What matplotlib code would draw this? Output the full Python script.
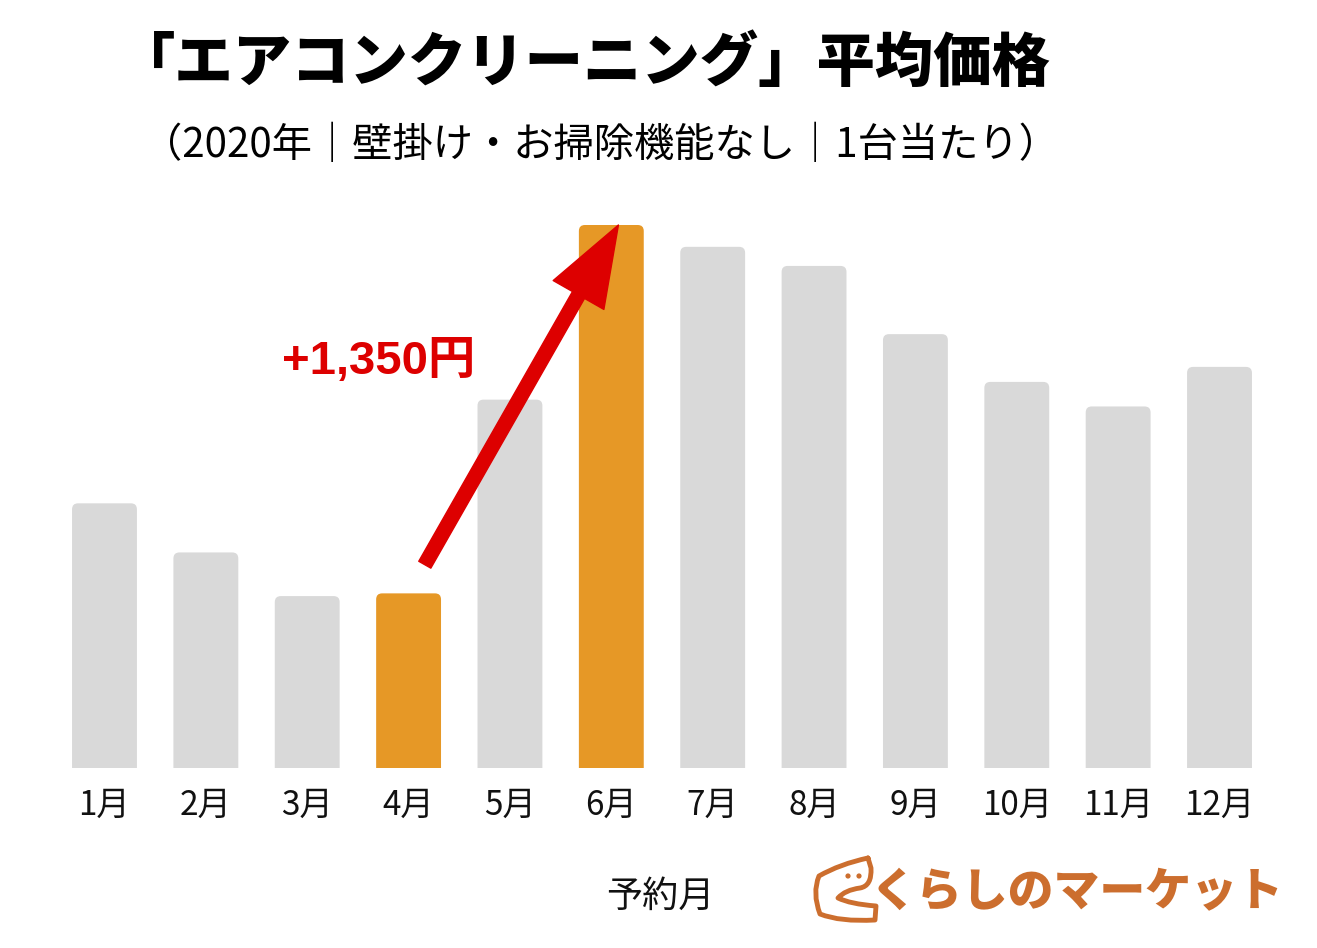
import matplotlib
matplotlib.use("Agg")
import matplotlib.pyplot as plt
from matplotlib.patches import FancyBboxPatch, PathPatch, Circle
from matplotlib.path import Path

# ---- data ----
months = ["1月", "2月", "3月", "4月", "5月", "6月", "7月", "8月", "9月", "10月", "11月", "12月"]
prices = [9970, 9790, 9630, 9640, 10350, 10990, 10910, 10840, 10590, 10415, 10325, 10470]
highlight = ["4月", "6月"]
title = "「エアコンクリーニング」平均価格"
subtitle = "（2020年｜壁掛け・お掃除機能なし｜1台当たり）"
diff_label = "+1,350円"
xlabel = "予約月"
logo_text = "くらしのマーケット"

GRAY = "#D9D9D9"
ORANGE = "#E69826"
RED = "#DD0000"
LOGO = "#CC6E2E"

W, H = 1317, 948
fig = plt.figure(figsize=(W / 100, H / 100), dpi=100)
fig.patch.set_facecolor("white")

def fx(px):
    return px / W

def fy(py):
    return 1 - py / H

# axes: baseline at y=768px, top at 225px
ax = fig.add_axes([fx(53.8), fy(768), fx(1270.2) - fx(53.8), (768 - 225) / H])
ymin, ymax = 9000, 10990
ax.set_xlim(-0.5, len(months) - 0.5)
ax.set_ylim(ymin, ymax)
ax.axis("off")

# aspect for rounded corners
fig.canvas.draw()
x_per_px = 1.0 / (ax.transData.transform((1, 0))[0] - ax.transData.transform((0, 0))[0])
y_per_px = 1.0 / (ax.transData.transform((0, 1))[1] - ax.transData.transform((0, 0))[1])
aspect = y_per_px / x_per_px

bw = 0.64
r = 6 * x_per_px
for i, (m, v) in enumerate(zip(months, prices)):
    col = ORANGE if m in highlight else GRAY
    p = FancyBboxPatch((i - bw / 2, ymin - 200), bw, v - ymin + 200,
                       boxstyle=f"round,pad=0,rounding_size={r}",
                       mutation_aspect=aspect, fc=col, ec="none", clip_on=True)
    ax.add_patch(p)
    ax.text(i, ymin - 37 * y_per_px, m, ha="center", va="center",
            fontsize=24, family=["Noto Sans CJK JP"], color="#111111")

# arrow from 4月 to 6月
i4, i6 = months.index("4月"), months.index("6月")
ax.annotate("", xy=(i6 + 0.07, prices[i6]), xytext=(i4 + 0.16, prices[i4] + 105),
            arrowprops=dict(arrowstyle="simple,head_length=58,head_width=42,tail_width=10",
                            mutation_scale=1, fc=RED, ec=RED, shrinkA=0, shrinkB=0),
            annotation_clip=False)

fig.text(fx(379), fy(362), diff_label, ha="center", va="center", fontsize=34,
         fontweight="bold", color=RED, family=["Liberation Sans", "Noto Sans CJK JP"])

fig.text(fx(584), fy(64), title, ha="center", va="center", fontsize=42,
         fontweight="black", family=["Noto Sans CJK JP"], color="black")
fig.text(fx(600), fy(146), subtitle, ha="center", va="center", fontsize=29,
         family=["Noto Sans CJK JP"], color="black")
fig.text(fx(660), fy(897), xlabel, ha="center", va="center", fontsize=26,
         family=["Noto Sans CJK JP"], color="#111111")

# logo
fig.text(fx(1077), fy(893), logo_text, ha="center", va="center", fontsize=33,
         fontweight="black", family=["Noto Sans CJK JP"], color=LOGO)
lax = fig.add_axes([fx(805), fy(928), 75 / W, 75 / H])
lax.set_xlim(0, 75)
lax.set_ylim(0, 75)
lax.axis("off")
# icon outline (local px coords, y upward)
pts = [(63, 70), (35, 64), (14, 52), (7, 35), (15, 14), (35, 6), (70, 8), (71, 22),
       (45, 24), (33, 30), (40, 38), (55, 40), (67, 42), (66, 60), (63, 70)]
codes = [Path.MOVETO, Path.CURVE3, Path.CURVE3, Path.CURVE3, Path.CURVE3, Path.CURVE3,
         Path.CURVE3, Path.LINETO, Path.CURVE3, Path.CURVE3, Path.CURVE3, Path.CURVE3,
         Path.CURVE3, Path.LINETO, Path.LINETO]
lax.add_patch(PathPatch(Path(pts, codes), fc="none", ec=LOGO, lw=3.5, capstyle="round",
                        joinstyle="round"))
lax.add_patch(Circle((43, 52), 2.6, fc=LOGO, ec="none"))
lax.add_patch(Circle((54, 52), 2.6, fc=LOGO, ec="none"))

fig.savefig("out.png", dpi=100, facecolor="white")
